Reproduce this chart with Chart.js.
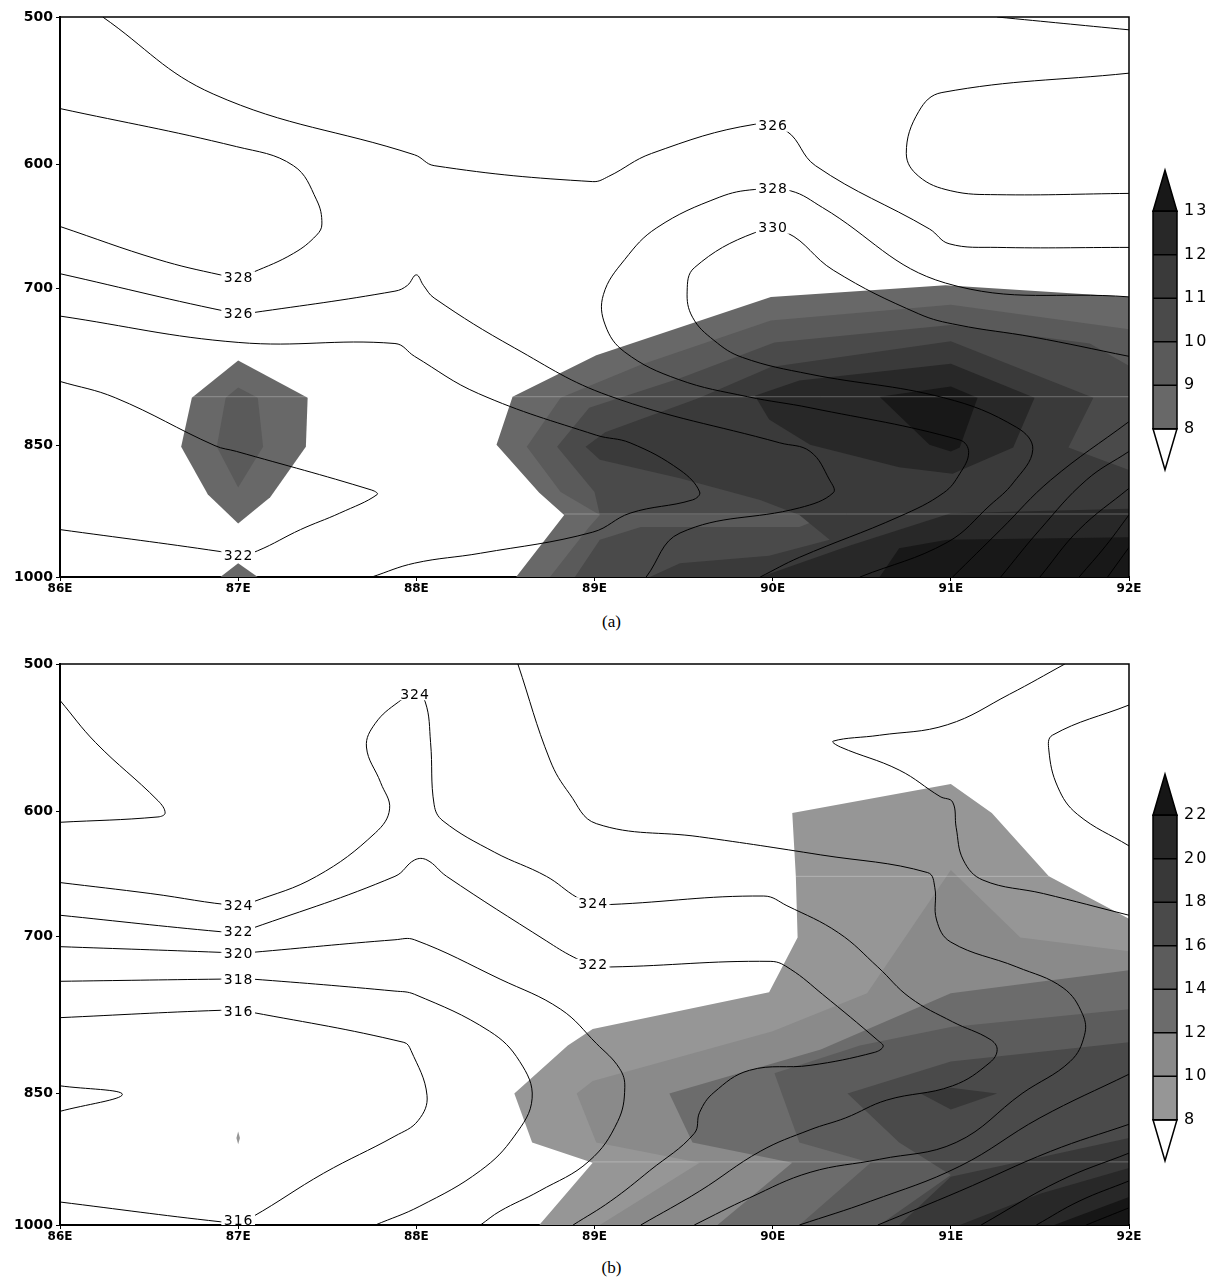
<!DOCTYPE html>
<html>
<head>
<meta charset="utf-8">
<script src="https://cdn.jsdelivr.net/npm/chart.js@4.4.1/dist/chart.umd.min.js"></script>
<style>
body { margin:0; background:#fff; }
#page { position:relative; width:1223px; height:1284px; }
canvas { position:absolute; left:0; }
#chartA { top:0; }
#chartB { top:647px; }
.cap { position:absolute; left:0; width:1223px; text-align:center; font-family:"Liberation Serif","DejaVu Serif",serif; font-size:17px; color:#000; }
</style>
</head>
<body>
<div id="page">
<canvas id="chartA" width="1223" height="600"></canvas>
<div class="cap" style="top:612px">(a)</div>
<canvas id="chartB" width="1223" height="600"></canvas>
<div class="cap" style="top:1258px">(b)</div>
</div>
<script>
// axes
const lonTicks = [86, 87, 88, 89, 90, 91, 92];
const presTicks = [500, 600, 700, 850, 1000];

// shading levels
const levelsA = [8, 9, 10, 11, 12, 13];
const levelsB = [8, 10, 12, 14, 16, 18, 20, 22];
const shadesA = ['#686868', '#5a5a5a', '#4a4a4a', '#3a3a3a', '#282828', '#181818'];
const shadesB = ['#969696', '#8a8a8a', '#6c6c6c', '#5c5c5c', '#4a4a4a', '#383838', '#282828', '#161616'];

// ---- panel (a) shaded areas, [lon, hPa]
const fillA8 = [[88.56,1000],[88.83,926],[88.69,901],[88.45,849],[88.54,800],[89.01,760],[89.99,707],[90.97,697],[92,707],[92,1000]];
const fillA8blob = [[87.00,765],[87.39,801],[87.38,851],[87.18,906],[87.00,936],[86.83,903],[86.68,851],[86.74,801]];
const fillA8tip = [[87.00,983],[87.11,1000],[86.90,1000]];
const fillA9 = [[88.75,1000],[88.97,940],[89.03,926],[88.81,900],[88.62,851],[88.81,801],[89.26,769],[89.99,728],[91.00,714],[92,736],[92,1000]];
const fillA9blob = [[87.00,791],[87.11,801],[87.14,851],[87.00,895],[86.88,851],[86.93,801]];
const fillA10 = [[88.89,1000],[89.03,955],[89.26,940],[90.15,940],[90.32,926],[89.03,926],[89.00,900],[88.79,851],[88.97,811],[89.48,782],[90.01,748],[91.00,732],[91.78,749],[92,770],[92,1000]];
const fillA11 = [[88.95,851],[89.06,836],[89.59,801],[89.99,771],[91.00,747],[91.80,801],[91.66,852],[92,876],[92,1000],[89.31,1000],[89.48,983],[89.98,974],[90.32,955],[90.15,926],[89.93,909],[89.48,885],[89.03,865]];
const fillA12 = [[89.90,799],[90.15,784],[91.00,768],[91.47,801],[91.35,852],[91.01,880],[90.71,873],[90.21,849],[89.98,823]];
const fillA12low = [[89.93,1000],[90.43,962],[91.00,924],[92,919],[92,1000]];
const fillA13 = [[90.60,800],[91.00,790],[91.15,801],[91.05,852],[91.00,856],[90.88,849]];
const fillA13low = [[90.60,1000],[90.71,965],[90.98,955],[92,952],[92,1000]];
// light seams along grid levels
const seamsA = [[[86.74,800],[87.39,800]], [[88.54,800],[92,800]], [[88.83,925],[92,925]]];

// ---- panel (a) contours
const thA326top = [[86.24,500],[86.86,550],[87.99,593],[88.10,601],[88.99,613],[89.08,609],[89.32,592],[89.90,571],[90.08,576],[90.24,601],[90.88,650],[90.99,662],[91.26,665],[92,665]];
const thA328left = [[86,560],[86.99,587],[87.31,601],[87.44,627],[87.47,646],[87.44,655],[87.31,670],[87.08,686],[87.00,690],[86.90,688],[86.55,675],[86,648]];
const thA326low = [[86,687],[87.00,722],[87.08,721],[87.88,702],[87.95,697],[88.00,688],[88.04,697],[88.10,708],[88.55,753],[89.08,799],[90.04,847],[90.21,856],[90.32,887],[90.34,901],[90.15,918],[89.48,947],[89.29,1000]];
const thA324 = [[86,724],[87.00,748],[87.88,749],[87.99,761],[88.35,797],[89.01,839],[89.20,847],[89.48,876],[89.59,900],[89.55,909],[89.20,924],[88.99,946],[88.36,971],[87.99,983],[87.75,1000]];
const thA322 = [[86,785],[86.31,801],[86.87,850],[86.99,856],[87.75,898],[87.78,903],[87.57,924],[87.35,943],[87.11,968],[87.00,974],[86.90,969],[86,943]];
const thA328 = [[92,707],[90.97,695],[90.28,633],[90.10,620],[89.90,619],[89.70,625],[89.35,649],[89.17,675],[89.05,705],[89.06,732],[89.17,757],[89.47,783],[89.86,800],[90.21,811],[91.05,844],[91.10,857],[91.05,880],[90.96,901],[90.71,928],[90.15,976],[89.93,1000]];
const thA330 = [[92,761],[91.46,743],[91.04,732],[90.82,722],[90.34,684],[90.08,653],[89.90,653],[89.56,682],[89.52,702],[89.55,725],[89.67,746],[89.83,762],[90.21,778],[90.96,801],[91.37,831],[91.46,854],[91.35,890],[91.22,915],[90.98,958],[90.49,1000]];
const thAcorner = [[91.26,500],[92,508]];
const thAright = [[92,536],[90.95,549],[90.82,562],[90.75,592],[90.82,609],[91.00,620],[91.26,623],[92,622]];
const thAd1 = [[91.01,1000],[91.28,943],[91.56,887],[92,825]];
const thAd2 = [[91.28,1000],[91.50,943],[91.76,887],[92,856]];
const thAd3 = [[91.50,1000],[91.72,943],[92,896]];
const thAd4 = [[91.72,1000],[91.87,962],[92,926]];
const thAd5 = [[91.88,1000],[92,964]];
const labelsA = [[90.00,572,'326'],[90.00,618,'328'],[90.00,649,'330'],[87.00,690,'328'],[87.00,722,'326'],[87.00,974,'322']];

// ---- panel (b) shaded areas
const fillB8 = [[88.69,1000],[88.99,926],[88.65,903],[88.55,850],[88.85,801],[88.99,785],[89.98,750],[90.14,701],[90.13,650],[90.11,601],[91.00,580],[91.23,601],[91.55,650],[92,685],[92,1000]];
const fillB8dot = [[86.99,898],[87.0,891],[87.01,898],[87.0,905]];
const fillB10 = [[89.03,1000],[89.59,926],[89.01,903],[88.90,850],[88.99,837],[90.00,787],[90.53,751],[91.00,645],[91.39,701],[92,713],[92,1000]];
const fillB12 = [[89.69,1000],[90.11,926],[89.55,903],[89.42,850],[90.27,805],[91.00,751],[92,730],[92,1000]];
const fillB14 = [[90.15,1000],[90.55,926],[90.15,903],[90.01,829],[90.49,801],[91.00,783],[92,766],[92,1000]];
const fillB16 = [[90.60,1000],[91.00,940],[90.71,903],[90.42,850],[91.00,817],[92,798],[92,1000]];
const fillB18 = [[90.83,850],[91.00,844],[91.26,850],[91.00,867]];
const fillB18low = [[90.71,1000],[91.00,942],[92,898],[92,1000]];
const fillB20 = [[91.05,1000],[91.50,962],[92,932],[92,1000]];
const fillB22 = [[91.58,1000],[92,966],[92,1000]];
const seamsB = [[[90.13,650],[91.55,650]], [[88.99,925],[92,925]]];

// ---- panel (b) contours
const thBedge = [[86,523],[86.20,551],[86.55,592],[86.59,601],[86.55,604],[86,608]];
const thB324 = [[86,655],[86.51,664],[87.00,674],[87.08,671],[87.44,650],[87.77,616],[87.85,598],[87.80,579],[87.72,554],[87.77,538],[87.90,524],[87.99,519],[88.05,524],[88.08,551],[88.10,595],[88.15,607],[88.44,631],[88.73,650],[88.90,667],[88.99,672],[89.09,673],[89.95,666],[90.08,674],[90.37,697],[90.59,727],[90.77,755],[91.01,778],[91.22,795],[91.26,805],[91.22,818],[91.01,842],[90.64,857],[90.41,876],[90.21,889],[89.93,913],[89.59,959],[89.26,1000]];
const thB322 = [[86,682],[86.90,696],[87.00,696],[87.08,693],[87.88,650],[87.99,637],[88.06,637],[88.17,650],[88.73,704],[88.88,718],[88.99,725],[89.09,727],[89.99,722],[90.10,729],[90.28,752],[90.59,796],[90.62,802],[90.57,808],[90.21,821],[89.87,826],[89.67,849],[89.59,870],[89.56,893],[89.31,935],[89.09,971],[88.88,1000]];
const thB320 = [[86,709],[86.90,714],[87.00,715],[87.08,714],[87.88,703],[87.99,703],[88.47,738],[88.81,766],[89.01,799],[89.14,824],[89.17,844],[89.13,880],[88.97,924],[88.69,959],[88.47,983],[88.36,1000]];
const thB318 = [[86,740],[86.90,738],[87.00,738],[87.08,738],[87.88,749],[87.99,752],[88.41,787],[88.58,817],[88.65,855],[88.55,896],[88.36,935],[88.02,977],[87.77,1000]];
const thB316 = [[86,774],[86.90,767],[87.00,768],[87.08,769],[87.93,798],[87.97,806],[88.06,852],[88.01,879],[87.88,896],[87.48,938],[87.08,990],[87.00,996],[86.90,996],[86,972]];
const thBbump = [[86,842],[86.35,851],[86,869]];
const thBs2 = [[88.57,500],[88.75,563],[88.86,587],[89.01,609],[89.59,619],[90.27,633],[90.87,647],[90.91,659],[90.92,686],[91.00,705],[91.37,727],[91.63,746],[91.74,771],[91.75,791],[91.67,817],[91.40,850],[91.03,903],[90.60,922],[90.21,937],[89.87,967],[89.56,1000]];
const thBs3 = [[91.64,500],[91.33,519],[90.98,539],[90.60,546],[90.34,550],[90.38,554],[90.71,570],[90.94,589],[91.01,593],[91.03,612],[91.07,637],[91.18,653],[91.52,664],[92,682]];
const thBs4 = [[92,526],[91.57,546],[91.55,556],[91.60,582],[91.71,602],[92,626]];
const thBd1 = [[92,830],[91.50,876],[91.05,930],[90.55,971],[90.15,1000]];
const thBd2 = [[92,883],[91.56,913],[91.05,959],[90.59,1000]];
const thBd3 = [[92,915],[91.61,947],[91.17,1000]];
const thBd4 = [[92,947],[91.72,971],[91.48,1000]];
const thBd5 = [[92,979],[91.76,1000]];
const labelsB = [[87.99,519,'324'],[87.00,674,'324'],[87.00,696,'322'],[87.00,715,'320'],[87.00,738,'318'],[87.00,768,'316'],[88.99,672,'324'],[88.99,725,'322'],[87.00,994,'316']];

function pts(arr) {
    return arr.map(function(p) { return {x: p[0], y: p[1]}; });
}

function buildDatasets(fills, shades, seams, lines) {
    var sets = [];
    fills.forEach(function(f) {
        sets.push({
            data: pts(f[0]), showLine: true, fill: 'shape',
            backgroundColor: shades[f[1]], borderColor: 'rgba(0,0,0,0)', borderWidth: 0,
            pointRadius: 0, tension: 0
        });
    });
    seams.forEach(function(s) {
        sets.push({
            data: pts(s), showLine: true, fill: false,
            borderColor: 'rgba(255,255,255,0.28)', borderWidth: 1, pointRadius: 0, tension: 0
        });
    });
    lines.forEach(function(l) {
        sets.push({
            data: pts(l), showLine: true, fill: false,
            borderColor: '#000', borderWidth: 1, pointRadius: 0, tension: 0.4
        });
    });
    // first in list is painted first
    sets.forEach(function(s, i) { s.order = sets.length - i; });
    return sets;
}

const contourLabels = {
    id: 'contourLabels',
    afterDatasetsDraw(chart, args, opts) {
        const ctx = chart.ctx, xs = chart.scales.x, ys = chart.scales.y, a = chart.chartArea;
        ctx.save();
        ctx.beginPath();
        ctx.rect(a.left, a.top, a.right - a.left, a.bottom - a.top);
        ctx.clip();
        ctx.font = '14px "DejaVu Sans"';
        ctx.letterSpacing = '1px';
        ctx.textAlign = 'center';
        ctx.textBaseline = 'middle';
        opts.items.forEach(function(l) {
            var x = xs.getPixelForValue(l[0]), y = ys.getPixelForValue(l[1]);
            var w = ctx.measureText(l[2]).width + 4;
            ctx.fillStyle = '#fff';
            ctx.fillRect(x - w / 2, y - 6, w, 12);
            ctx.fillStyle = '#000';
            ctx.fillText(l[2], x + 0.5, y + 1);
        });
        ctx.restore();
    }
};

const frameBox = {
    id: 'frameBox',
    afterDraw(chart) {
        const ctx = chart.ctx, a = chart.chartArea;
        ctx.save();
        ctx.strokeStyle = '#000';
        ctx.lineWidth = 1.5;
        ctx.beginPath();
        ctx.moveTo(a.left, a.top);
        ctx.lineTo(a.right, a.top);
        ctx.lineTo(a.right, a.bottom);
        ctx.stroke();
        ctx.restore();
    }
};

const colorBar = {
    id: 'colorBar',
    afterDraw(chart, args, opts) {
        const ctx = chart.ctx, a = chart.chartArea;
        const n = opts.levels.length - 1;
        const seg = 43.5, w = 24, tri = 41;
        const left = a.right + 24;
        const mid = (a.top + a.bottom) / 2 + 23;
        const bottom = mid + n * seg / 2;
        const top = bottom - n * seg;
        ctx.save();
        ctx.strokeStyle = '#000';
        ctx.lineWidth = 1.5;
        for (var i = 0; i < n; i++) {
            ctx.fillStyle = opts.shades[i];
            ctx.fillRect(left, bottom - (i + 1) * seg, w, seg);
        }
        ctx.beginPath();
        ctx.moveTo(left, top); ctx.lineTo(left + w / 2, top - tri); ctx.lineTo(left + w, top);
        ctx.closePath();
        ctx.fillStyle = opts.shades[n];
        ctx.fill(); ctx.stroke();
        ctx.beginPath();
        ctx.moveTo(left, bottom); ctx.lineTo(left + w / 2, bottom + tri); ctx.lineTo(left + w, bottom);
        ctx.closePath();
        ctx.fillStyle = '#fff';
        ctx.fill(); ctx.stroke();
        ctx.strokeRect(left, top, w, n * seg);
        ctx.font = '16px "DejaVu Sans"';
        ctx.letterSpacing = '2px';
        ctx.textAlign = 'left';
        ctx.textBaseline = 'middle';
        ctx.fillStyle = '#000';
        for (var j = 0; j <= n; j++) {
            var y = bottom - j * seg;
            ctx.beginPath(); ctx.moveTo(left, y); ctx.lineTo(left + w, y); ctx.stroke();
            ctx.fillText(String(opts.levels[j]), left + w + 7, y);
        }
        ctx.restore();
    }
};

function makeChart(id, fills, shades, seams, lines, labels, levels, padBottom) {
    return new Chart(document.getElementById(id), {
        type: 'scatter',
        data: { datasets: buildDatasets(fills, shades, seams, lines) },
        plugins: [contourLabels, frameBox, colorBar],
        options: {
            responsive: false,
            animation: false,
            events: [],
            layout: { padding: { left: 0, top: 17, right: 94, bottom: padBottom } },
            plugins: {
                legend: { display: false },
                tooltip: { enabled: false },
                contourLabels: { items: labels },
                colorBar: { levels: levels, shades: shades }
            },
            scales: {
                x: {
                    type: 'linear', min: 86, max: 92,
                    afterBuildTicks: function(s) { s.ticks = lonTicks.map(function(v) { return {value: v}; }); },
                    afterFit: function(s) { s.height = 20; },
                    ticks: { autoSkip: false, maxRotation: 0, padding: 1, color: '#000',
                             font: { family: 'DejaVu Sans', size: 12, weight: 'bold' },
                             callback: function(v) { return v + 'E'; } },
                    grid: { display: true, drawOnChartArea: false, tickLength: 4, color: '#000' },
                    border: { display: true, color: '#000', width: 2 }
                },
                y: {
                    type: 'logarithmic', reverse: true, min: 500, max: 1000,
                    afterBuildTicks: function(s) { s.ticks = presTicks.map(function(v) { return {value: v}; }); },
                    afterFit: function(s) { s.width = 60; },
                    ticks: { autoSkip: false, padding: 3, color: '#000',
                             font: { family: 'DejaVu Sans', size: 14, weight: 'bold' },
                             callback: function(v) { return String(v); } },
                    grid: { display: true, drawOnChartArea: false, tickLength: 4, color: '#000' },
                    border: { display: true, color: '#000', width: 2 }
                }
            }
        }
    });
}

const fillsA = [[fillA8,0],[fillA8blob,0],[fillA8tip,0],[fillA9,1],[fillA9blob,1],[fillA10,2],[fillA11,3],[fillA12,4],[fillA12low,4],[fillA13,5],[fillA13low,5]];
const linesA = [thA326top, thA328left, thA326low, thA324, thA322, thA328, thA330, thAcorner, thAright, thAd1, thAd2, thAd3, thAd4, thAd5];
const fillsB = [[fillB8,0],[fillB8dot,0],[fillB10,1],[fillB12,2],[fillB14,3],[fillB16,4],[fillB18,5],[fillB18low,5],[fillB20,6],[fillB22,7]];
const linesB = [thBedge, thB324, thB322, thB320, thB318, thB316, thBbump, thBs2, thBs3, thBs4, thBd1, thBd2, thBd3, thBd4, thBd5];

makeChart('chartA', fillsA, shadesA, seamsA, linesA, labelsA, levelsA, 3);
makeChart('chartB', fillsB, shadesB, seamsB, linesB, labelsB, levelsB, 2);
</script>
</body>
</html>
